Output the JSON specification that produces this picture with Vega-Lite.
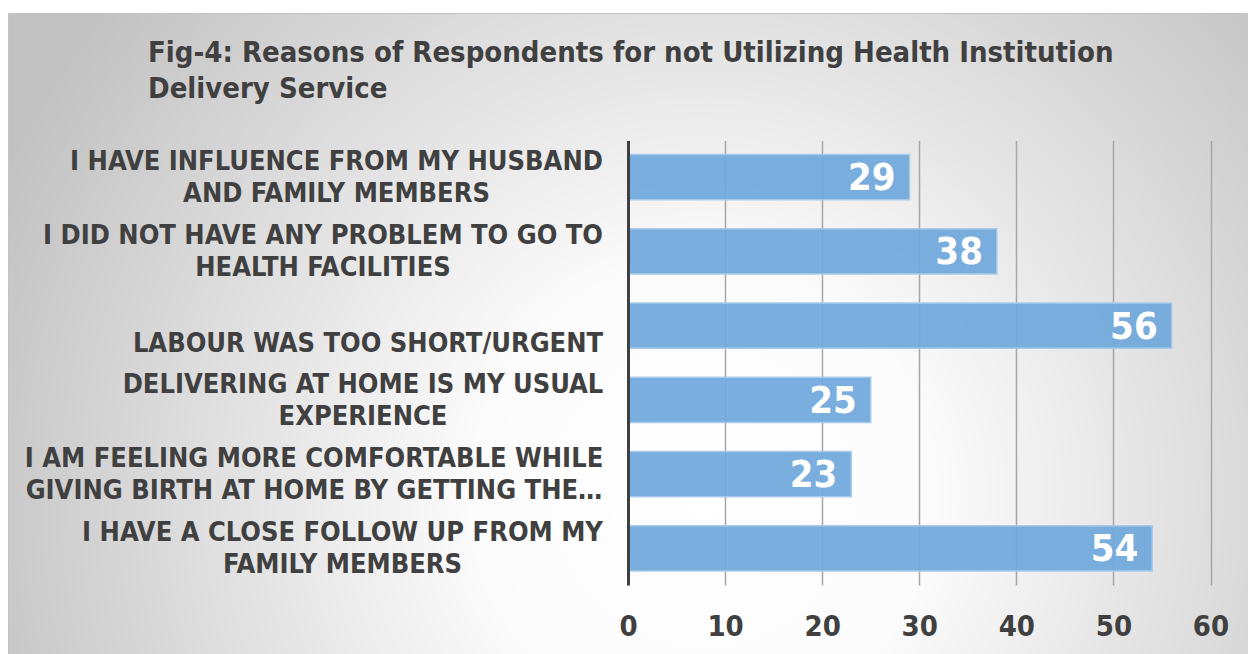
{
  "$schema": "https://vega.github.io/schema/vega-lite/v6.json",
  "autosize": {"type": "none"},
  "padding": {"left": 8, "top": 13, "right": 0, "bottom": 0},
  "width": 1240,
  "height": 641,
  "background": "#ffffff",
  "view": {
    "fill": {"expr": "{gradient: 'radial', x1: 0.56, y1: 0.63, r1: 0, x2: 0.56, y2: 0.63, r2: 0.62, stops: [{offset: 0, color: '#ffffff'}, {offset: 0.3, color: '#fbfbfb'}, {offset: 1, color: '#c2c2c2'}]}"},
    "stroke": "#c4c4c4",
    "strokeWidth": 1
  },
  "title": {
    "text": ["Fig-4: Reasons of Respondents for not Utilizing Health Institution", "Delivery Service"],
    "anchor": "start",
    "frame": "group",
    "orient": "top",
    "baseline": "alphabetic",
    "offset": -114,
    "dx": 140,
    "font": "DejaVu Sans Condensed, DejaVu Sans",
    "fontSize": 29,
    "fontWeight": "bold",
    "color": "#404040",
    "lineHeight": 36
  },
  "data": {
    "values": [
      {"reason": "I HAVE INFLUENCE FROM MY HUSBAND\nAND FAMILY MEMBERS", "value": 29},
      {"reason": "I DID NOT HAVE ANY PROBLEM TO GO TO\nHEALTH FACILITIES", "value": 38},
      {"reason": "LABOUR WAS TOO SHORT/URGENT", "value": 56},
      {"reason": "DELIVERING AT HOME IS MY USUAL\nEXPERIENCE", "value": 25},
      {"reason": "I AM FEELING MORE COMFORTABLE WHILE\nGIVING BIRTH AT HOME BY GETTING THE…", "value": 23},
      {"reason": "I HAVE A CLOSE FOLLOW UP FROM MY\nFAMILY MEMBERS", "value": 54}
    ]
  },
  "encoding": {
    "y": {
      "field": "reason",
      "type": "nominal",
      "sort": null,
      "scale": {"range": [127.5, 572], "paddingInner": 0.393, "paddingOuter": 0.19},
      "axis": {
        "title": null,
        "orient": "left",
        "offset": -620,
        "zindex": 1,
        "domain": true,
        "domainColor": "#404040",
        "domainWidth": 3,
        "ticks": false,
        "grid": false,
        "labelExpr": "split(datum.value, '\\n')",
        "labelAlign": "center",
        "labelBaseline": "middle",
        "labelPadding": {
          "condition": [
            {"test": "indexof(datum.value,'LABOUR')==0", "value": 260.5},
            {"test": "indexof(datum.value,'DELIVERING')==0", "value": 265.5},
            {"test": "indexof(datum.value,'I AM FEELING')==0", "value": 314.5},
            {"test": "indexof(datum.value,'I DID NOT')==0", "value": 305.5},
            {"test": "indexof(datum.value,'I HAVE INFLUENCE')==0", "value": 292}
          ],
          "value": 286
        },
        "labelOffset": {"condition": {"test": "indexof(datum.value,'LABOUR')==0", "value": 18}, "value": -15},
        "labelFont": "DejaVu Sans Condensed, DejaVu Sans",
        "labelFontSize": 27,
        "labelFontWeight": "bold",
        "labelColor": "#404040",
        "labelLineHeight": 32,
        "labelLimit": 800
      }
    },
    "x": {
      "field": "value",
      "type": "quantitative",
      "scale": {"domain": [0, 60], "range": [620, 1202.5], "nice": false},
      "axis": {
        "title": null,
        "orient": "bottom",
        "offset": -69,
        "zindex": 0,
        "values": [0, 10, 20, 30, 40, 50, 60],
        "domain": false,
        "grid": false,
        "ticks": true,
        "tickSize": -444.5,
        "tickColor": "#a6a6a6",
        "tickWidth": 1.5,
        "labelFlush": false,
        "labelPadding": 472,
        "labelFont": "DejaVu Sans Condensed, DejaVu Sans",
        "labelFontSize": 29,
        "labelFontWeight": "bold",
        "labelColor": "#404040"
      }
    }
  },
  "layer": [
    {
      "mark": {"type": "bar", "fill": "#6fa8dc", "fillOpacity": 0.93, "stroke": "#a9cbea", "strokeWidth": 1.5}
    },
    {
      "mark": {"type": "text", "align": "right", "baseline": "middle", "dx": -14, "dy": 2, "font": "DejaVu Sans Condensed, DejaVu Sans", "fontSize": 38, "fontWeight": "bold", "fill": "#ffffff"},
      "encoding": {"text": {"field": "value", "type": "quantitative"}}
    }
  ]
}
